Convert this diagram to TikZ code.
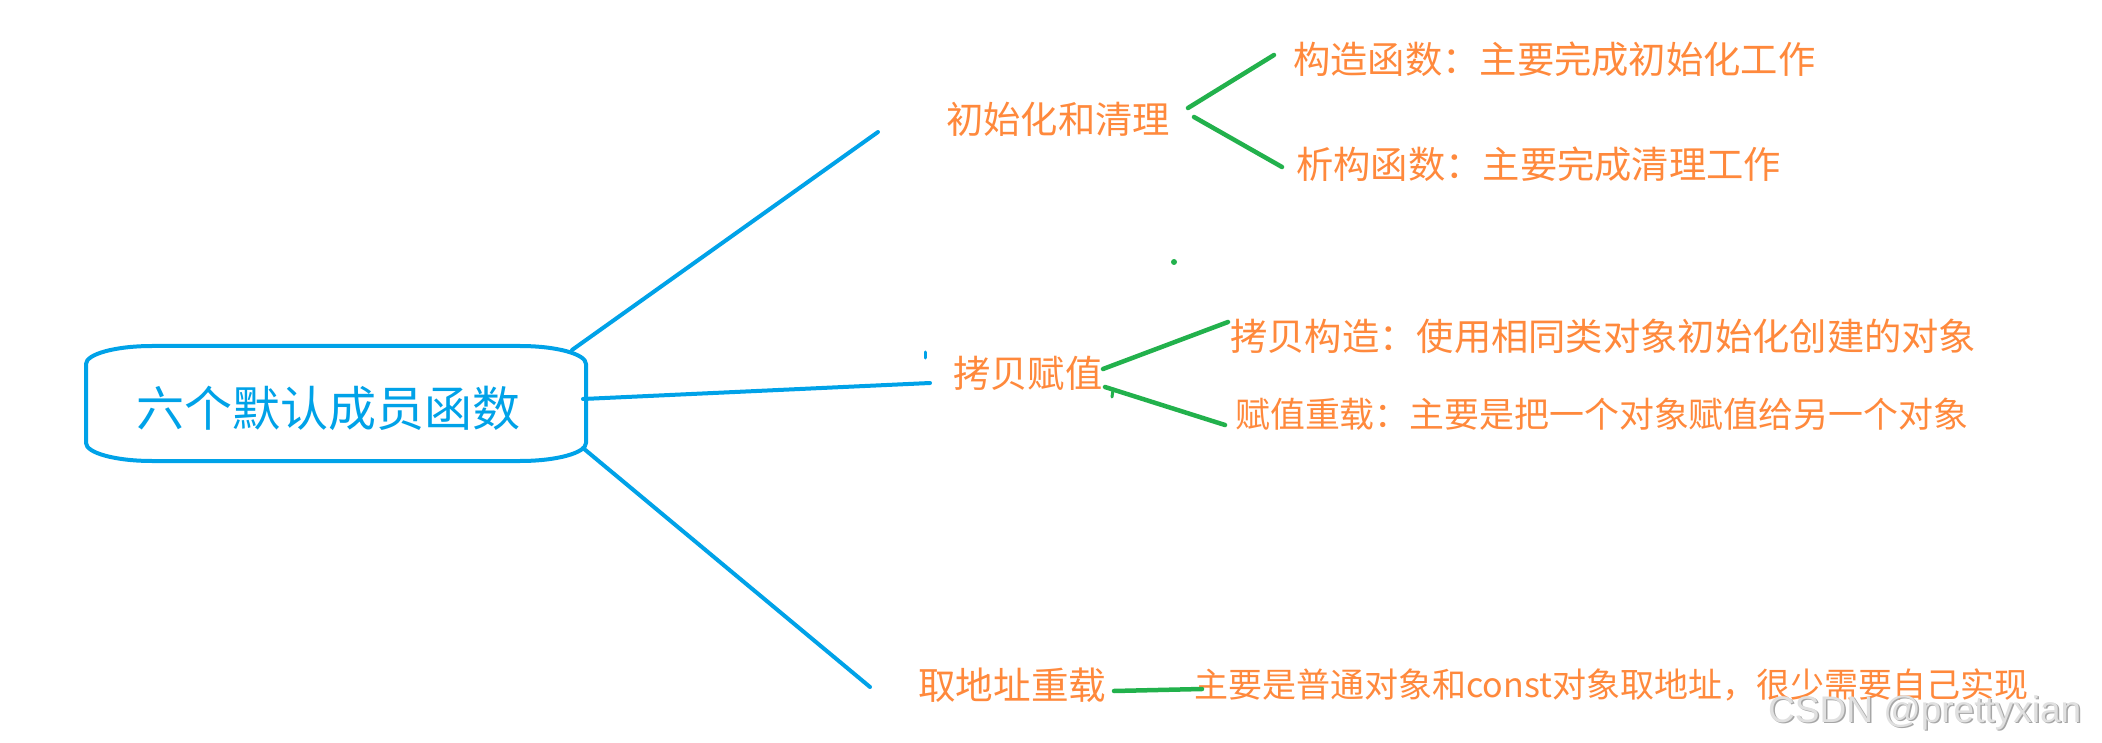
\documentclass[tikz,border=0pt]{standalone}
\usepackage{fontspec}
\newfontfamily\cjk{Noto Sans CJK SC}
\newfontfamily\wmfont{Liberation Sans}
\usetikzlibrary{calc}
\definecolor{cblue}{RGB}{0,162,232}
\definecolor{cgreen}{RGB}{34,177,76}
\definecolor{corange}{RGB}{255,137,60}
\tikzset{
  blueline/.style={draw=cblue,line width=4pt,line cap=round,line join=round},
  greenline/.style={draw=cgreen,line width=4.5pt,line cap=round},
  leaf/.style={text=corange,inner sep=0pt,anchor=west,font=\cjk\fontsize{37.3}{40}\selectfont},
  rootlabel/.style={text=cblue,inner sep=0pt,font=\cjk\fontsize{48}{52}\selectfont},
  wmark/.style={inner sep=0pt,anchor=base west,font=\wmfont\fontsize{37}{40}\selectfont}
}
\begin{document}
\begin{tikzpicture}[x=1pt,y=-1pt]
\fill[white] (0,0) rectangle (2102,743);
\useasboundingbox (0,0) rectangle (2102,743);

% root
\node[rootlabel] (root) at (328,408) {六个默认成员函数};
\draw[blueline] ($(root)+(-176,-62)$) -- ($(root)+(192,-62)$)
  arc[start angle=90,end angle=0,x radius=66pt,y radius=18pt]
  -- ($(root)+(258,35)$)
  arc[start angle=0,end angle=-90,x radius=66pt,y radius=18pt]
  -- ($(root)+(-176,53)$)
  arc[start angle=270,end angle=180,x radius=66pt,y radius=18pt]
  -- ($(root)+(-242,-44)$)
  arc[start angle=180,end angle=90,x radius=66pt,y radius=18pt]
  -- cycle;

% second level
\node[leaf] (init) at (946,119) {初始化和清理};
\node[leaf] (copy) at (953,373) {拷贝赋值};
\node[leaf,font=\cjk\fontsize{37.6}{40}\selectfont] (addr) at (918,685) {取地址重载};

% third level
\node[leaf] (ctor) at (1293,59) {构造函数：主要完成初始化工作};
\node[leaf] (dtor) at (1296,164) {析构函数：主要完成清理工作};
\node[leaf] (cpyctor) at (1230,336) {拷贝构造：使用相同类对象初始化创建的对象};
\node[leaf,font=\cjk\fontsize{34.9}{38}\selectfont] (assign) at (1235,414) {赋值重载：主要是把一个对象赋值给另一个对象};
\node[leaf,font=\cjk\fontsize{34}{38}\selectfont] (addrdesc) at (1194,685) {主要是普通对象和const对象取地址，很少需要自己实现};

% blue connectors
\draw[blueline] ($(root)+(244,-58)$) -- ($(init.west)+(-68,13)$);
\draw[blueline] ($(root)+(255,-9)$) -- ($(copy.west)+(-23,10)$);
\draw[blueline] ($(root)+(255,40)$) -- ($(addr.west)+(-48,2)$);

% green connectors
\draw[greenline] ($(init.west)+(242,-11)$) -- ($(ctor.west)+(-19,-4)$);
\draw[greenline] ($(init.west)+(248,-2)$) -- ($(dtor.west)+(-14,3)$);
\draw[greenline] ($(copy.west)+(150,-4)$) -- ($(cpyctor.west)+(-2,-14)$);
\draw[greenline] ($(copy.west)+(152,14)$) -- ($(assign.west)+(-10,11)$);
\draw[greenline] ($(addr.west)+(196,6)$) -- ($(addrdesc.west)+(8,4)$);

% small stray marks
\fill[cgreen] (1174,262) circle[radius=3pt];
\draw[cblue,line width=3pt,line cap=round] (925,352) -- (925,358);
\draw[cgreen,line width=3pt,line cap=round] (1113,390) -- (1112,397);

% watermark
\node[wmark,text=black!35] (wm0) at (1769.5,723.5) {CSDN @prettyxian};
\node[wmark,text=black!12] (wm) at (1768,722) {CSDN @prettyxian};
\end{tikzpicture}
\end{document}
